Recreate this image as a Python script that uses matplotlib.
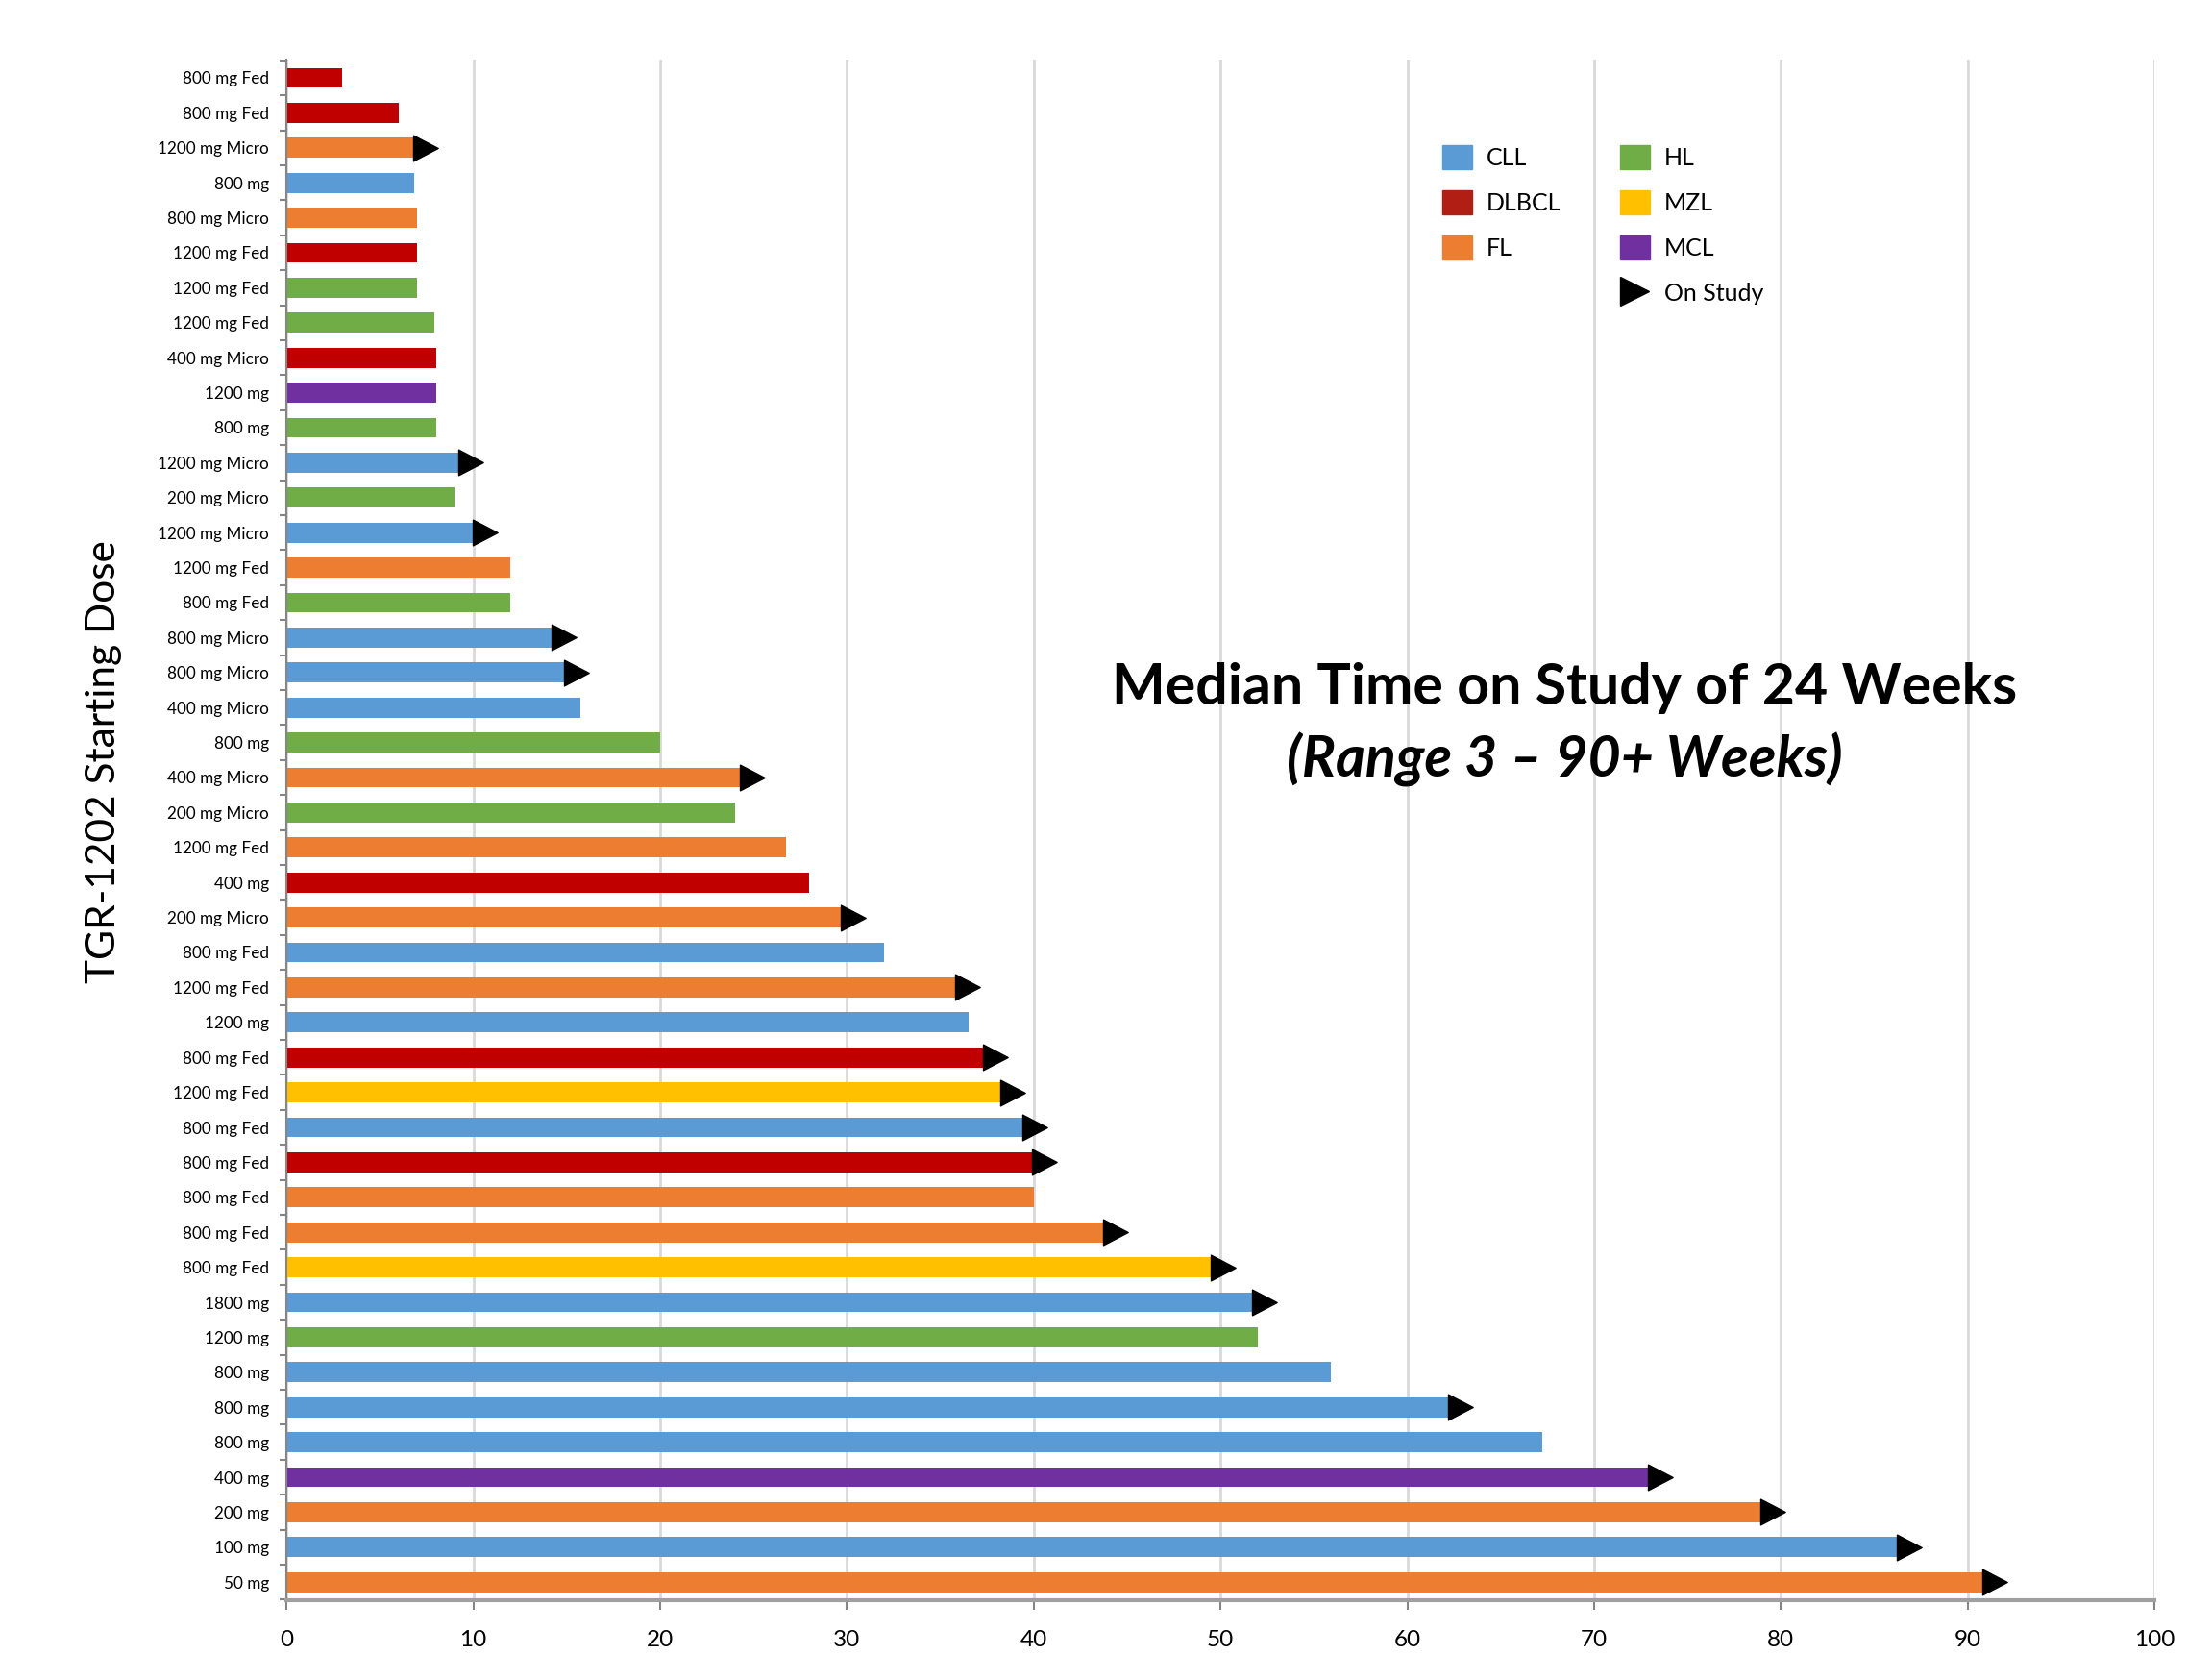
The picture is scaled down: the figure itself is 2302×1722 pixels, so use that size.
import numpy as np
import matplotlib
matplotlib.use("Agg")
import matplotlib.pyplot as plt
from matplotlib.patches import Patch
from matplotlib.lines import Line2D
from matplotlib.path import Path

plt.rcParams['font.family'] = ['Lato', 'DejaVu Sans']

# data, listed top to bottom as in the chart
doses = ["800 mg Fed", "800 mg Fed", "1200 mg Micro", "800 mg", "800 mg Micro",
         "1200 mg Fed", "1200 mg Fed", "1200 mg Fed", "400 mg Micro", "1200 mg",
         "800 mg", "1200 mg Micro", "200 mg Micro", "1200 mg Micro", "1200 mg Fed",
         "800 mg Fed", "800 mg Micro", "800 mg Micro", "400 mg Micro", "800 mg",
         "400 mg Micro", "200 mg Micro", "1200 mg Fed", "400 mg", "200 mg Micro",
         "800 mg Fed", "1200 mg Fed", "1200 mg", "800 mg Fed", "1200 mg Fed",
         "800 mg Fed", "800 mg Fed", "800 mg Fed", "800 mg Fed", "800 mg Fed",
         "1800 mg", "1200 mg", "800 mg", "800 mg", "800 mg",
         "400 mg", "200 mg", "100 mg", "50 mg"]
disease = ["DLBCL", "DLBCL", "FL", "CLL", "FL", "DLBCL", "HL", "HL", "DLBCL", "MCL",
           "HL", "CLL", "HL", "CLL", "FL", "HL", "CLL", "CLL", "CLL", "HL",
           "FL", "HL", "FL", "DLBCL", "FL", "CLL", "FL", "CLL", "DLBCL", "MZL",
           "CLL", "DLBCL", "FL", "FL", "MZL", "CLL", "HL", "CLL", "CLL", "CLL",
           "MCL", "FL", "CLL", "FL"]
weeks = [3.0, 6.0, 6.8, 6.85, 7.0, 7.0, 7.0, 7.9, 8.0, 8.0,
         8.0, 9.2, 9.0, 9.95, 12.0, 12.0, 14.2, 14.87, 15.75, 20.0,
         24.27, 24.03, 26.76, 28.0, 29.7, 32.0, 35.8, 36.5, 37.3, 38.2,
         39.4, 39.9, 40.0, 43.7, 49.5, 51.7, 52.0, 55.9, 62.2, 67.2,
         72.9, 78.9, 86.2, 90.8]
on_study = [0, 0, 1, 0, 0, 0, 0, 0, 0, 0,
            0, 1, 0, 1, 0, 0, 1, 1, 0, 0,
            1, 0, 0, 0, 1, 0, 1, 0, 1, 1,
            1, 1, 0, 1, 1, 1, 0, 0, 1, 0,
            1, 1, 1, 1]

colors = {"CLL": "#5B9BD5", "DLBCL": "#C00000", "FL": "#ED7D31",
          "HL": "#70AD47", "MZL": "#FFC000", "MCL": "#7030A0"}

fig = plt.figure(figsize=(23.02, 17.22), dpi=100)
ax = fig.add_axes([0.1295, 0.033, 0.8445, 0.931])

y = np.arange(len(doses))
ax.barh(y, weeks, height=0.57, color=[colors[d] for d in disease], zorder=2)

# "on study" arrow heads sit right at the bar end
tri = Path([(0, -0.52), (1, 0), (0, 0.52), (0, -0.52)],
           [Path.MOVETO, Path.LINETO, Path.LINETO, Path.CLOSEPOLY])
w = np.array(weeks)
m = np.array(on_study) == 1
ax.plot(w[m], y[m], linestyle='none', marker=tri, markersize=37,
        color='black', zorder=3)

ax.set_ylim(len(doses) - 0.48, -0.52)
ax.set_xlim(0, 100)
ax.set_yticks(y)
ax.set_yticklabels(doses, fontsize=12.3)
ax.set_yticks(np.arange(-0.5, len(doses), 1), minor=True)
ax.tick_params(axis='y', which='major', length=0, pad=13)
ax.tick_params(axis='y', which='minor', length=5, width=1.5, color='#868686')
ax.set_xticks(np.arange(0, 101, 10))
ax.tick_params(axis='x', labelsize=17.5, length=7, width=1.5, color='#868686', pad=15)
ax.grid(axis='x', color='#D9D9D9', linewidth=2, zorder=0)
for s in ['top', 'right']:
    ax.spines[s].set_visible(False)
ax.spines['left'].set_color('#868686')
ax.spines['left'].set_linewidth(1.5)
ax.spines['bottom'].set_color('#A0A0A0')
ax.spines['bottom'].set_linewidth(3)

ax.set_ylabel("TGR-1202 Starting Dose", fontsize=30.5)
ax.yaxis.set_label_coords(-0.088, 0.544)

ax.text(68.4, 17.9, "Median Time on Study of 24 Weeks", fontsize=42.5,
        fontweight='bold', ha='center', va='baseline', zorder=4)
ax.text(68.4, 20.0, "(Range 3 \u2013 90+ Weeks)", fontsize=42.5,
        fontweight='bold', style='italic', ha='center', va='baseline', zorder=4)

handles = [Patch(color=colors["CLL"]), Patch(color="#B01E14"), Patch(color=colors["FL"]),
           Patch(color='none'),
           Patch(color=colors["HL"]), Patch(color=colors["MZL"]), Patch(color=colors["MCL"]),
           Line2D([], [], linestyle='none', marker='>', markersize=21, color='black')]
names = ["CLL", "DLBCL", "FL", "", "HL", "MZL", "MCL", "On Study"]
leg = ax.legend(handles, names, ncol=2, fontsize=18, frameon=False,
                loc='upper left', bbox_to_anchor=(0.607, 0.9585),
                handlelength=1.25, handleheight=1.15, handletextpad=0.6,
                columnspacing=2.45, labelspacing=0.89)
leg.set_zorder(5)

fig.savefig("out.png", dpi=100)
